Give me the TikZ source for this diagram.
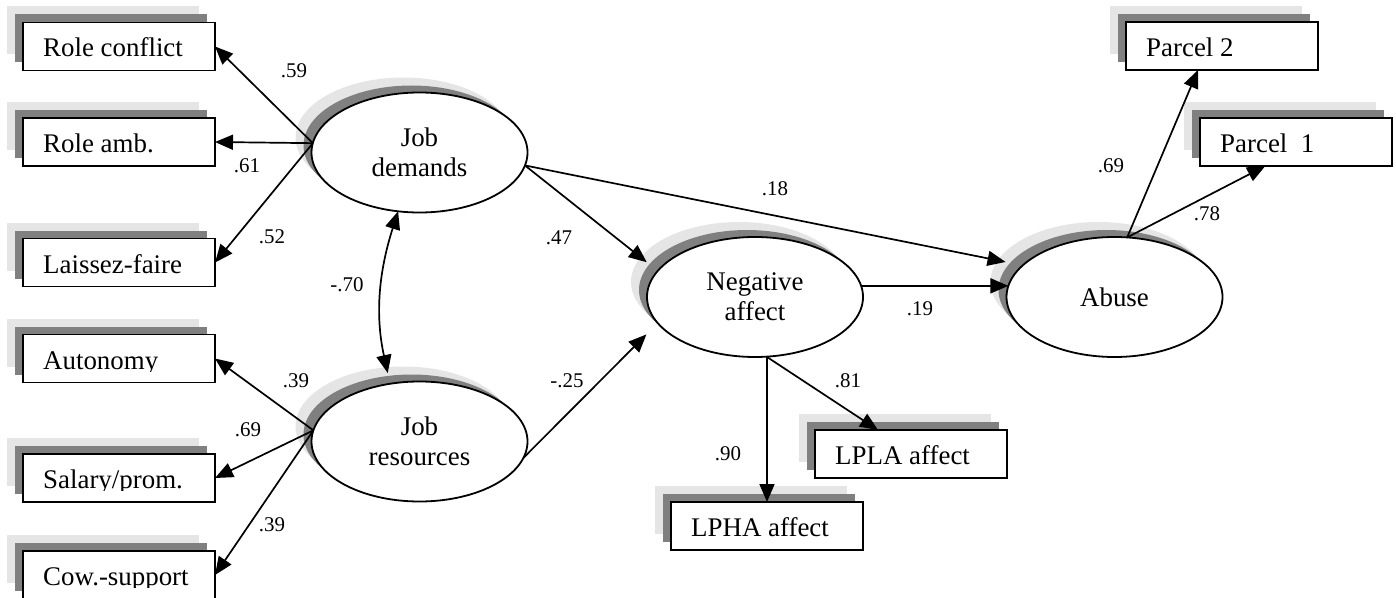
\documentclass[tikz,border=0pt]{standalone}
\usepackage{fontspec}
\setmainfont{Liberation Serif}
\usetikzlibrary{arrows.meta,calc,shapes.geometric}
\definecolor{shadedark}{gray}{0.5}
\definecolor{shadelight}{gray}{0.9}

% observed variable: two offset shadows, white box, text clipped just under the baseline
\newcommand\mkobs[4]{%
  \node[obsshade=shadelight] (#1-l) at (#2-16,#3-16) {};
  \node[obsshade=shadedark] (#1-d) at (#2-8,#3-8) {};
  \node[obs] (#1) at (#2,#3) {};
  \begin{scope}
    \clip (#1.north west) rectangle ($(#1.north east)+(0,36.5)$);
    \node[obstext] (#1-t) at ($(#1.north west)+(20,34.5)$) {#4};
  \end{scope}}

% latent variable: two offset shadow ellipses under a white ellipse
\newcommand\mklat[4]{%
  \node[latshade=shadelight] (#1-l) at (#2-16,#3-15) {};
  \node[latshade=shadedark] (#1-d) at (#2-8,#3-7) {};
  \node[lat] (#1) at (#2,#3) {#4};}

\begin{document}
\begin{tikzpicture}[x=1bp,y=-1bp,
  obs/.style={draw, line width=1.8bp, fill=white, minimum width=192bp,
    minimum height=48bp, inner sep=0pt, outer sep=0pt},
  obsshade/.style={obs, draw=none, fill=#1},
  lat/.style={ellipse, draw, line width=1.8bp, fill=white, minimum width=216bp,
    minimum height=120bp, inner sep=0pt, outer sep=0pt, align=center,
    font=\fontsize{27}{30}\selectfont},
  latshade/.style={lat, draw=none, fill=#1},
  obstext/.style={anchor=base west, inner sep=0pt, font=\fontsize{27}{30}\selectfont},
  coef/.style={inner sep=0pt, font=\fontsize{21}{24}\selectfont},
  link/.style={line width=1.7bp, -{Triangle[length=18bp,width=15bp]}},
  cov/.style={line width=1.7bp, {Triangle[length=18bp,width=15bp]}-{Triangle[length=18bp,width=15bp]}},
]
\useasboundingbox (0,0) rectangle (1396,598);

% indicators
\mkobs{rc}{119}{46.5}{Role conflict}
\mkobs{ra}{119}{142}{Role amb.}
\mkobs{lf}{119}{262.5}{Laissez-faire}
\mkobs{au}{119}{358.5}{Autonomy}
\mkobs{sp}{119}{478}{Salary/prom.}
\mkobs{cs}{119}{575}{Cow.-support}
\mkobs{lpha}{767}{526}{LPHA affect}
\mkobs{lpla}{911}{454}{LPLA affect}
\mkobs{p2}{1222}{46}{Parcel 2}
\mkobs{p1}{1296}{142}{Parcel\ \ 1}

% latent factors
\mklat{jd}{419.5}{152.5}{Job\\demands}
\mklat{jr}{419.5}{441.5}{Job\\resources}
\mklat{na}{755}{297}{Negative\\affect}
\mklat{ab}{1114.5}{297}{Abuse}

% loadings
\draw[link] (jd.175) -- (rc.east);
\draw[link] (jd.175) -- (ra.east);
\draw[link] (jd.175) -- (lf.east);
\draw[link] (jr.174) -- (au.east);
\draw[link] (jr.174) -- (sp.east);
\draw[link] (jr.174) -- (cs.east);
\draw[link] (lpha.north |- na.south) -- (lpha.north);
\draw[link] (lpha.north |- na.south) -- (lpla.144);
\draw[link] (ab.78) -- (p2.225);
\draw[link] (ab.78) -- (p1.218);

% structural paths
\draw[cov, shorten >=11bp] (jd.250) to[bend right=15] (jr.117);
\draw[link, shorten >=14bp] (jd.-7) -- (na.165);
\draw[link, shorten >=17.5bp] (jd.-7) -- (ab.161);
\draw[link, shorten >=16bp] (jr.-9) -- (na.195);
\draw[link] (na.6) -- (ab.174);

% coefficients
\node[coef] (c-rc) at (294,71) {.59};
\node[coef] (c-ra) at (247,166) {.61};
\node[coef] (c-lf) at (272,237) {.52};
\node[coef] (c-cov) at (347,285) {-.70};
\node[coef] (c-au) at (296,381) {.39};
\node[coef] (c-sp) at (248,430) {.69};
\node[coef] (c-cs) at (272,525) {.39};
\node[coef] (c-jdna) at (559,238) {.47};
\node[coef] (c-jdab) at (775,189) {.18};
\node[coef] (c-jrna) at (567,381) {-.25};
\node[coef] (c-naab) at (920,309) {.19};
\node[coef] (c-lpla) at (848,381) {.81};
\node[coef] (c-lpha) at (728,454) {.90};
\node[coef] (c-p2) at (1111,166) {.69};
\node[coef] (c-p1) at (1207,214) {.78};
\end{tikzpicture}
\end{document}
